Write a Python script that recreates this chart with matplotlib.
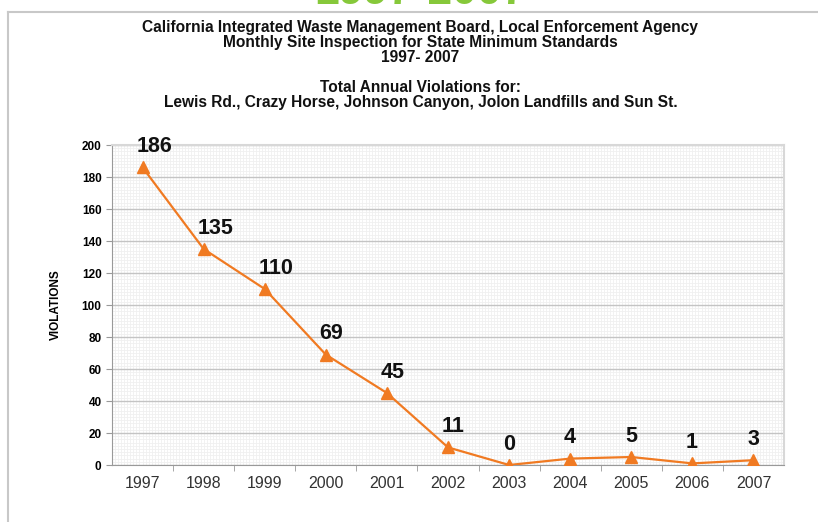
import matplotlib.pyplot as plt

plt.rcParams['font.family'] = ['Liberation Sans', 'DejaVu Sans']

years = ['1997', '1998', '1999', '2000', '2001', '2002', '2003', '2004', '2005', '2006', '2007']
violations = [186, 135, 110, 69, 45, 11, 0, 4, 5, 1, 3]

fig = plt.figure(figsize=(8.18, 5.22), dpi=100)

# frame of the slide
fig.add_artist(plt.Line2D([8 / 818, 1], [1 - 12 / 522] * 2, color='#c8c8c8', lw=1.5))
fig.add_artist(plt.Line2D([8 / 818] * 2, [0, 1 - 12 / 522], color='#c8c8c8', lw=1.5))

# cut-off green heading at the top
fig.text(0.514, 1 - 4 / 522, '1997-2007', color='#86c83a', fontsize=32, fontweight='bold',
         ha='center', va='baseline')

title = ('California Integrated Waste Management Board, Local Enforcement Agency\n'
         'Monthly Site Inspection for State Minimum Standards\n'
         '1997- 2007\n\n'
         'Total Annual Violations for:\n'
         'Lewis Rd., Crazy Horse, Johnson Canyon, Jolon Landfills and Sun St.')
fig.text(0.514, 1 - 20 / 522, title, ha='center', va='top', fontsize=11.2,
         fontweight='bold', linespacing=1.0, color='#111111')

ax = fig.add_axes([112 / 818, 1 - 465 / 522, 672 / 818, 320 / 522])
x = list(range(len(years)))
ax.plot(x, violations, color='#f07a22', lw=1.6, marker='^', markersize=8, zorder=3)

for xi, v in zip(x, violations):
    ax.annotate(str(v), (xi, v), xytext=(-4.5, 15), textcoords='offset points',
                ha='left', va='center', fontsize=15.5, fontweight='bold', color='#111111')

ax.set_xlim(-0.5, len(years) - 0.5)
ax.set_ylim(0, 200)
ax.set_xticks(x)
ax.set_xticklabels(years, fontsize=11.5, color='#333333')
ax.set_xticks([i + 0.5 for i in x[:-1]], minor=True)
ax.tick_params(axis='x', which='major', length=0, pad=8)
ax.tick_params(axis='x', which='minor', length=4, color='#999999')
ax.set_yticks(range(0, 201, 20))
ax.tick_params(axis='y', length=4, color='#999999', labelsize=8.5)
for lbl in ax.get_yticklabels():
    lbl.set_fontweight('bold')

ax.set_ylabel('VIOLATIONS', fontsize=8.5, fontweight='bold', labelpad=14)

ax.grid(axis='y', which='major', color='#c4c4c4', lw=1)
# faint fine background grid
for i in range(0, 201, 2):
    ax.axhline(i, color='#f0f0f0', lw=0.6, zorder=0)
for i in range(0, 220):
    ax.axvline(-0.5 + i * 0.05, color='#f0f0f0', lw=0.6, zorder=0)
ax.set_axisbelow(True)

for s in ['top', 'right']:
    ax.spines[s].set_color('#d8d8d8')
    ax.spines[s].set_linewidth(1.5)
ax.spines['left'].set_color('#999999')
ax.spines['bottom'].set_color('#999999')

fig.savefig('out.png', dpi=100)
